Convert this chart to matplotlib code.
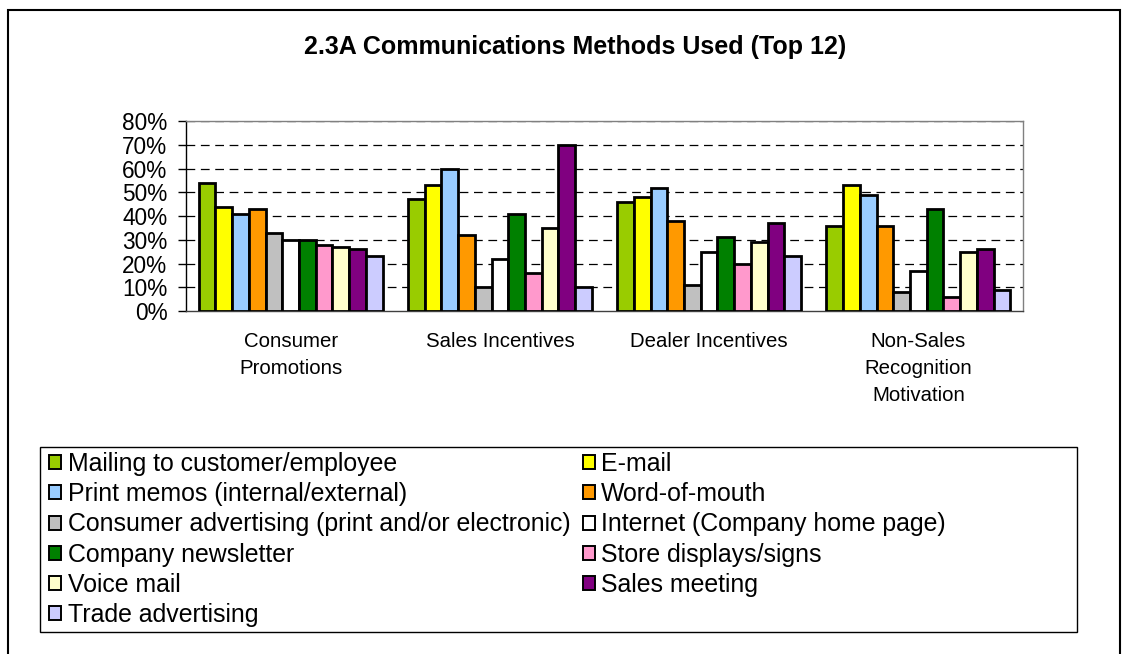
import matplotlib
matplotlib.use("Agg")
import matplotlib.pyplot as plt
from matplotlib.patches import Rectangle, Patch
import numpy as np

plt.rcParams['font.family'] = ['Liberation Sans', 'DejaVu Sans']

categories = ["Consumer\nPromotions", "Sales Incentives", "Dealer Incentives",
              "Non-Sales\nRecognition\nMotivation"]
series_names = ["Mailing to customer/employee", "E-mail",
                "Print memos (internal/external)", "Word-of-mouth",
                "Consumer advertising (print and/or electronic)",
                "Internet (Company home page)", "Company newsletter",
                "Store displays/signs", "Voice mail", "Sales meeting",
                "Trade advertising"]
mailing = [54, 47, 46, 36]
email = [44, 53, 48, 53]
print_memos = [41, 60, 52, 49]
word_of_mouth = [43, 32, 38, 36]
consumer_adv = [33, 10, 11, 8]
internet = [30, 22, 25, 17]
newsletter = [30, 41, 31, 43]
store_displays = [28, 16, 20, 6]
voice_mail = [27, 35, 29, 25]
sales_meeting = [26, 70, 37, 26]
trade_adv = [23, 10, 23, 9]
y_ticks = [0, 10, 20, 30, 40, 50, 60, 70, 80]
y_tick_labels = ["0%", "10%", "20%", "30%", "40%", "50%", "60%", "70%", "80%"]

series_values = [mailing, email, print_memos, word_of_mouth, consumer_adv,
                 internet, newsletter, store_displays, voice_mail,
                 sales_meeting, trade_adv]
colors = ["#99CC00", "#FFFF00", "#99CCFF", "#FF9900", "#C0C0C0", "#FFFFFF",
          "#008000", "#FF99CC", "#FFFFCC", "#800080", "#CCCCFF"]

W, H = 1129, 654
fig = plt.figure(figsize=(W / 100, H / 100), dpi=100)

def fx(px):
    return px / W

def fy(py):
    return 1 - py / H

ax = fig.add_axes([fx(186), fy(311), fx(1023) - fx(186), fy(121) - fy(311)])

n = len(series_values)
bw = 1 / (n + 1.5)
x = np.arange(len(categories))
for j, (vals, col) in enumerate(zip(series_values, colors)):
    ax.bar(x + (j - (n - 1) / 2) * bw, vals, width=bw, color=col,
           edgecolor="black", linewidth=2.0, label=series_names[j], zorder=3)

ax.set_xlim(-0.5, len(categories) - 0.5)
ax.set_ylim(0, 80)
ax.set_yticks(y_ticks)
ax.set_yticklabels(y_tick_labels, fontsize=16.3)
ax.set_xticks(x)
ax.set_xticklabels(categories, fontsize=14.7, linespacing=1.55, va="top")
ax.tick_params(axis="x", length=0, pad=15)
ax.tick_params(axis="y", length=6, width=1, pad=7.5, direction="out")
for yv in y_ticks[1:]:
    ax.axhline(yv, color="black", lw=0.9, ls=(0, (7, 4.5)), zorder=1)

ax.spines["top"].set_color("#808080")
ax.spines["right"].set_color("#808080")
ax.spines["left"].set_color("black")
ax.spines["bottom"].set_color("#404040")
for s in ax.spines.values():
    s.set_linewidth(1.0)

# title
fig.text(fx(575), fy(47), "2.3A Communications Methods Used (Top 12)",
         ha="center", va="center", fontsize=18, fontweight="bold")

# legend (row-wise order in two columns)
handles = [Patch(facecolor=c, edgecolor="black", linewidth=1.4) for c in colors]
order = list(range(0, n, 2)) + list(range(1, n, 2))
leg = fig.legend([handles[i] for i in order], [series_names[i] for i in order],
                 ncol=2, loc="upper left",
                 bbox_to_anchor=(fx(49), fy(452)), bbox_transform=fig.transFigure,
                 frameon=False, fontsize=17.9, borderpad=0, borderaxespad=0,
                 handlelength=0.5, handleheight=0.5, handletextpad=0.25,
                 labelspacing=0.25, columnspacing=0.5)

fig.patches.append(Rectangle((fx(40), fy(632)), fx(1077) - fx(40), fy(447) - fy(632),
                             transform=fig.transFigure, fill=False,
                             edgecolor="black", linewidth=1.0))
fig.patches.append(Rectangle((fx(8), fy(670)), fx(1120) - fx(8), fy(10) - fy(670),
                             transform=fig.transFigure, fill=False,
                             edgecolor="black", linewidth=1.5))

fig.savefig("out.png", dpi=100, facecolor="white")
